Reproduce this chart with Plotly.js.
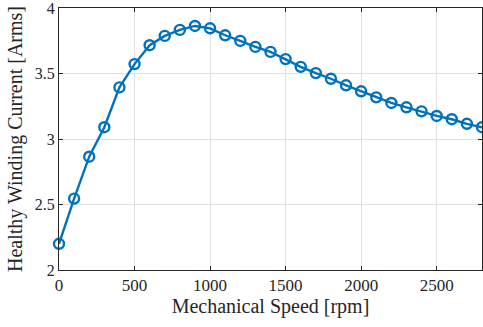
<!DOCTYPE html>
<html><head><meta charset="utf-8">
<script src="https://cdn.plot.ly/plotly-3.0.1.min.js"></script>
<style>html,body{margin:0;padding:0;background:#fff}#plot{width:483px;height:327px}</style>
</head><body><div id="plot"></div>
<script>
const speed = [0,100,200,300,400,500,600,700,800,900,1000,1100,1200,1300,1400,1500,1600,1700,1800,1900,2000,2100,2200,2300,2400,2500,2600,2700,2800];
const current = [2.20,2.545,2.865,3.09,3.394,3.572,3.716,3.787,3.833,3.863,3.845,3.792,3.749,3.703,3.665,3.61,3.551,3.503,3.46,3.41,3.364,3.318,3.275,3.242,3.211,3.176,3.151,3.116,3.09];
const xTicks = [0,500,1000,1500,2000,2500];
const yTicks = [2,2.5,3,3.5,4];
const yTickText = ['2','2.5','3','3.5','4'];
const axisCol = '#262626';
Plotly.newPlot('plot', [{
  x: speed, y: current, type: 'scatter', mode: 'lines+markers',
  line: {color: '#0072BD', width: 2.4},
  marker: {symbol: 'circle-open', size: 10, color: '#0072BD', line: {width: 2.4, color: '#0072BD'}},
  cliponaxis: false, showlegend: false
}], {
  width: 483, height: 327,
  margin: {l: 59, r: 1, t: 8, b: 57},
  paper_bgcolor: '#fff', plot_bgcolor: '#fff',
  font: {family: 'Liberation Serif, Times New Roman, serif', color: axisCol, size: 16},
  xaxis: {range: [0, 2800], tickvals: xTicks, ticks: 'inside', ticklen: 4, tickcolor: axisCol,
    showline: true, linecolor: axisCol, linewidth: 1, mirror: 'ticks',
    showgrid: true, gridcolor: '#e0e0e0', gridwidth: 1, zeroline: false,
    tickfont: {size: 17, color: axisCol}, ticklabeloverflow: 'allow',
    title: {text: 'Mechanical Speed [rpm]', font: {size: 20, color: axisCol}, standoff: 2}},
  yaxis: {range: [2, 4.0001], tickvals: yTicks, ticktext: yTickText, ticks: 'inside', ticklen: 4, tickcolor: axisCol,
    showline: true, linecolor: axisCol, linewidth: 1, mirror: 'ticks',
    showgrid: true, gridcolor: '#e0e0e0', gridwidth: 1, zeroline: false,
    tickfont: {size: 16, color: axisCol}, ticklabeloverflow: 'allow',
    title: {text: 'Healthy Winding Current [Arms]', font: {size: 20, color: axisCol}, standoff: 6}}
}, {displayModeBar: false, staticPlot: true});
</script></body></html>
